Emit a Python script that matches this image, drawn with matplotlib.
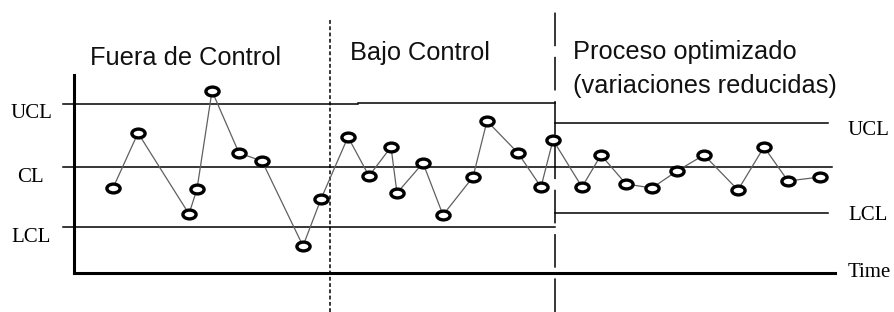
import matplotlib
matplotlib.use('Agg')
import matplotlib.pyplot as plt
from matplotlib.path import Path
from matplotlib.transforms import Affine2D

t = [113, 138, 189, 197, 212, 239, 262, 303, 321,
     348, 369, 391, 397, 423, 443, 473, 487, 518, 541, 553,
     582, 601, 626, 652, 677, 704, 738, 764, 788, 820]
values = [124, 179, 98, 123, 221, 159, 151, 66, 113,
          175, 136, 165, 119, 149, 97, 135, 191, 159, 125, 172,
          125, 157, 128, 124, 141, 157, 122, 165, 131, 135]

cl = 145
ucl_old = [208, 209.5]      # small step around t=358
lcl_old = 85
ucl_new = 189
lcl_new = 99
time_base = 39

t_start, t_step, t_change, t_end = 63, 358, 555.5, 828
t_phase1 = 330

fig = plt.figure(figsize=(8.95, 3.12), dpi=100)
ax = fig.add_axes([0, 0, 1, 1])
ax.set_xlim(0, 895)
ax.set_ylim(0, 312)
ax.axis('off')

# control limits
ax.plot([t_start, t_step], [ucl_old[0]] * 2, color='black', lw=1.1)
ax.plot([t_step, t_change], [ucl_old[1]] * 2, color='black', lw=1.1)
ax.plot([t_start, t_change], [lcl_old] * 2, color='black', lw=1.1)
ax.plot([t_start, 832], [cl] * 2, color='black', lw=1.1)
ax.plot([t_change, t_end], [ucl_new] * 2, color='black', lw=1.1)
ax.plot([t_change, t_end], [lcl_new] * 2, color='black', lw=1.1)

# axes
ax.plot([74, 74], [time_base, 237], color='black', lw=2.2, solid_capstyle='projecting')
ax.plot([74, 835], [time_base, time_base], color='black', lw=2.2, solid_capstyle='projecting')

# phase separators
ax.plot([t_phase1, t_phase1], [0, 294], color='black', lw=1.1, linestyle=(0, (2.5, 1.6)))
ax.plot([t_change, t_change], [0, 302], color='black', lw=1.1, linestyle=(0, (22, 7)))

# data
oval = Path.unit_circle().transformed(Affine2D().scale(1.5, 1.0))
ax.plot(t, values, color='#606060', lw=0.9, zorder=3)
ax.plot(t, values, linestyle='none', marker=oval, markersize=9.5,
        markerfacecolor='white', markeredgecolor='black', markeredgewidth=2.4, zorder=4)

# labels
sans = 'Liberation Sans'
serif = 'Liberation Serif'
fs = 18.3
ax.text(90, 247, 'Fuera de Control', fontsize=fs, family=sans, va='baseline', color='#111111')
ax.text(350, 252, 'Bajo Control', fontsize=fs, family=sans, va='baseline', color='#111111')
ax.text(573, 253, 'Proceso optimizado', fontsize=fs, family=sans, va='baseline', color='#111111')
ax.text(573, 219, '(variaciones reducidas)', fontsize=fs, family=sans, va='baseline', color='#111111')

ax.text(31, 194, 'UCL', fontsize=15, family=serif, ha='center', va='baseline')
ax.text(30, 130, 'CL', fontsize=15, family=serif, ha='center', va='baseline')
ax.text(31, 70, 'LCL', fontsize=15, family=serif, ha='center', va='baseline')
ax.text(848, 177, 'UCL', fontsize=15, family=serif, va='baseline')
ax.text(848, 92, 'LCL', fontsize=15, family=serif, va='baseline')
ax.text(848, 35, 'Time', fontsize=15, family=serif, va='baseline')

fig.savefig('out.png', dpi=100)
